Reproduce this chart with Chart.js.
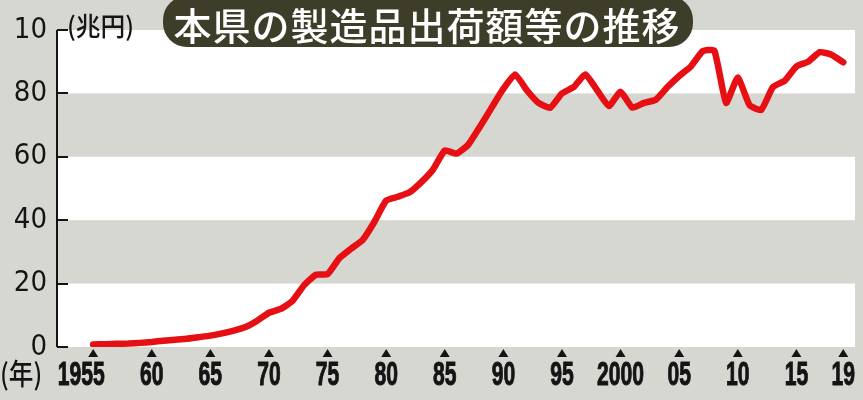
<!DOCTYPE html>
<html>
<head>
<meta charset="utf-8">
<script src="https://cdn.jsdelivr.net/npm/chart.js@4"></script>
<style>
  html, body { margin: 0; padding: 0; background: #d7d7d2; }
  #wrap { width: 863px; height: 400px; position: relative; }
</style>
</head>
<body>
<div id="wrap"><canvas id="chart"></canvas></div>
<script>
// --- data ---
const years = [
  1955, 1956, 1957, 1958, 1959, 1960, 1961, 1962, 1963, 1964,
  1965, 1966, 1967, 1968, 1969, 1970, 1971, 1972, 1973, 1974,
  1975, 1976, 1977, 1978, 1979, 1980, 1981, 1982, 1983, 1984,
  1985, 1986, 1987, 1988, 1989, 1990, 1991, 1992, 1993, 1994,
  1995, 1996, 1997, 1998, 1999, 2000, 2001, 2002, 2003, 2004,
  2005, 2006, 2007, 2008, 2009, 2010, 2011, 2012, 2013, 2014,
  2015, 2016, 2017, 2018, 2019
];
const shipments = [
  0.8, 0.9, 1.0, 1.1, 1.3, 1.6, 2.0, 2.3, 2.6, 3.1,
  3.6, 4.3, 5.2, 6.3, 8.3, 10.8, 12.0, 14.5, 19.5, 22.8,
  23.0, 28.0, 31.0, 33.8, 39.5, 46.2, 47.4, 48.8, 52.0, 56.0,
  62.0, 61.0, 63.8, 69.5, 75.5, 81.5, 86.0, 81.0, 77.0, 75.5,
  80.0, 82.0, 86.0, 81.0, 76.0, 80.5, 75.5, 77.0, 78.0, 82.0,
  85.5, 88.5, 93.3, 93.5, 77.0, 85.0, 76.3, 74.8, 82.0, 84.0,
  88.5, 90.0, 93.0, 92.2, 89.8
];
const xTickYears = [1955, 1960, 1965, 1970, 1975, 1980, 1985, 1990, 1995, 2000, 2005, 2010, 2015, 2019];
const xTickLabels = ['1955', '60', '65', '70', '75', '80', '85', '90', '95', '2000', '05', '10', '15', '19'];
const yTickValues = [0, 20, 40, 60, 80, 100];
const yTickLabels = ['0', '20', '40', '60', '80', '10'];
const greyBands = [[20, 40], [60, 80]];

const titleText = '本県の製造品出荷額等の推移';
const unitText = '(兆円)';
const yearText = '(年)';

const BG = '#d7d7d2';
const RED = '#e60f14';
const INK = '#141414';

// --- decoration plugin: bands, axis, ticks, labels, title ---
const decor = {
    id: 'decor',
    beforeDraw(chart) {
        const { ctx, chartArea: a, scales: { y } } = chart;
        ctx.save();
        ctx.fillStyle = BG;
        ctx.fillRect(0, 0, chart.width, chart.height);
        ctx.fillStyle = '#ffffff';
        ctx.fillRect(a.left, a.top, a.right - a.left, a.bottom - a.top);
        ctx.fillStyle = BG;
        greyBands.forEach(([lo, hi]) => {
            const t = y.getPixelForValue(hi);
            const b = y.getPixelForValue(lo);
            ctx.fillRect(a.left, t, a.right - a.left, b - t);
        });
        ctx.restore();
    },
    afterDraw(chart) {
        const { ctx, chartArea: a, scales: { x, y } } = chart;
        ctx.save();

        // y axis line + inward ticks
        ctx.strokeStyle = INK;
        ctx.lineWidth = 2;
        ctx.beginPath();
        ctx.moveTo(a.left - 1, a.top);
        ctx.lineTo(a.left - 1, a.bottom);
        yTickValues.forEach(v => {
            const py = Math.round(y.getPixelForValue(v));
            ctx.moveTo(a.left - 1, py);
            ctx.lineTo(a.left + 10, py);
        });
        ctx.stroke();

        // x ticks: small triangles + condensed labels
        ctx.fillStyle = INK;
        ctx.strokeStyle = INK;
        ctx.lineWidth = 1;
        xTickYears.forEach((yr, i) => {
            const px = x.getPixelForValue(yr);
            ctx.beginPath();
            ctx.moveTo(px, a.bottom + 2);
            ctx.lineTo(px + 5, a.bottom + 10);
            ctx.lineTo(px - 5, a.bottom + 10);
            ctx.closePath();
            ctx.fill();

            ctx.save();
            ctx.font = 'bold 33px "Liberation Sans", sans-serif';
            const label = xTickLabels[i];
            let cx = px;
            if (i === 0) cx = px - 12;
            ctx.translate(cx, 385);
            ctx.scale(0.64, 1);
            ctx.textAlign = 'center';
            ctx.textBaseline = 'alphabetic';
            ctx.fillText(label, 0, 0);
            ctx.strokeText(label, 0, 0);
            ctx.restore();
        });

        // unit labels
        ctx.fillStyle = INK;
        ctx.textAlign = 'left';
        ctx.textBaseline = 'alphabetic';
        ctx.save();
        ctx.font = '500 26px "Noto Sans CJK JP", sans-serif';
        ctx.translate(67, 36);
        ctx.scale(0.95, 1);
        ctx.fillText(unitText, 0, 0);
        ctx.restore();
        ctx.save();
        ctx.font = '500 29px "Noto Sans CJK JP", sans-serif';
        ctx.translate(0, 385);
        ctx.scale(0.85, 1);
        ctx.fillText(yearText, 0, 0);
        ctx.restore();

        // title pill
        const bx = 163, by = -4, bw = 530, bh = 51, r = 24;
        ctx.fillStyle = '#3d3d29';
        ctx.beginPath();
        ctx.roundRect(bx, by, bw, bh, r);
        ctx.fill();
        ctx.fillStyle = '#ffffff';
        ctx.font = '500 38px "Noto Sans CJK JP", sans-serif';
        ctx.textAlign = 'center';
        ctx.textBaseline = 'middle';
        if ('letterSpacing' in ctx) ctx.letterSpacing = '1px';
        ctx.fillText(titleText, bx + bw / 2 - 1, 26);

        ctx.restore();
    }
};

new Chart(document.getElementById('chart').getContext('2d'), {
    type: 'line',
    data: {
        datasets: [{
            label: titleText,
            data: years.map((yr, i) => ({ x: yr, y: shipments[i] })),
            borderColor: RED,
            borderWidth: 6.5,
            borderJoinStyle: 'round',
            borderCapStyle: 'round',
            pointRadius: 0,
            tension: 0.15,
            fill: false
        }]
    },
    options: {
        responsive: true,
        maintainAspectRatio: false,
        animation: false,
        layout: { padding: { top: 30, right: 8, left: 0, bottom: 0 } },
        plugins: { legend: { display: false }, tooltip: { enabled: false } },
        scales: {
            x: {
                type: 'linear',
                min: 1952,
                max: 2020,
                grid: { display: false, drawTicks: false },
                border: { display: false },
                ticks: { display: false },
                afterFit: s => { s.height = 53; }
            },
            y: {
                min: 0,
                max: 100,
                grid: { display: false, drawTicks: false },
                border: { display: false },
                ticks: {
                    stepSize: 20,
                    padding: 11,
                    color: INK,
                    font: { family: "'DejaVu Sans Condensed', 'Liberation Sans Narrow', sans-serif", size: 29 },
                    callback: v => yTickLabels[yTickValues.indexOf(v)]
                },
                afterFit: s => { s.width = 58; }
            }
        }
    },
    plugins: [decor]
});
</script>
</body>
</html>
